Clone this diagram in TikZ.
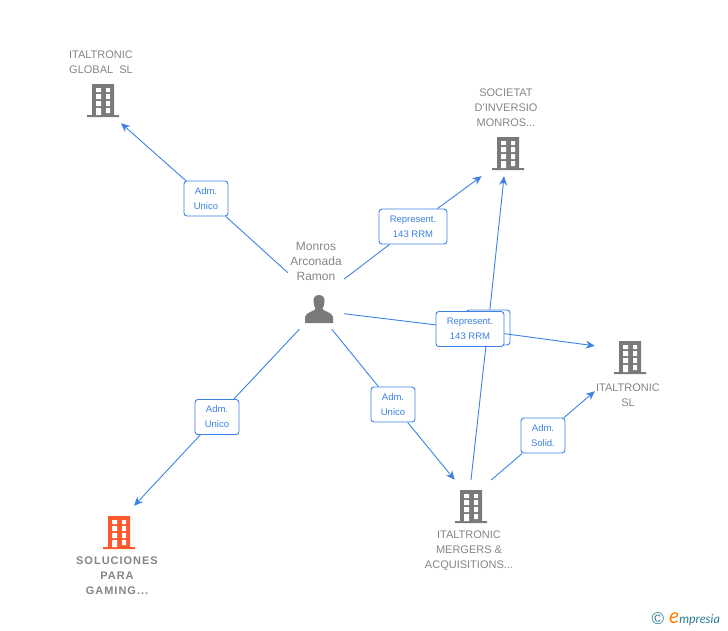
\documentclass[tikz,border=0pt]{standalone}
\usepackage{fontspec}
\setmainfont{Liberation Sans}
\newfontfamily\espacada[LetterSpace=9]{Liberation Sans}
\newfontfamily\marca{Lato}
\usetikzlibrary{arrows.meta}
\definecolor{azul}{HTML}{3B82E4}
\definecolor{cinza}{HTML}{7A7A7A}
\definecolor{texto}{HTML}{858585}
\definecolor{laranja}{HTML}{FF5A2B}
\definecolor{teal}{HTML}{2F7F96}
\newcommand{\liga}{\draw[-{Stealth[length=9pt,width=8pt]},azul,line width=0.9pt]}
\newcommand{\traco}{\draw[azul,line width=0.9pt]}
\tikzset{
  alvo/.style={inner sep=0pt,minimum width=70pt},
  nome/.style={text=texto,align=center,font=\fontsize{11}{15}\selectfont},
  rotulo/.style={draw=azul,line width=0.9pt,fill=white,rounded corners=3pt,text=azul,align=center,
    inner sep=0pt,minimum height=35pt,font=\fontsize{9.5}{15}\selectfont},
  curto/.style={rotulo,minimum width=44pt},
  longo/.style={rotulo,minimum width=68pt},
  pics/predio/.style={code={
    \fill[pic actions] (-11,-17) rectangle (11,14) (-16,14) rectangle (16,16);
    \fill[white] (-7,-13) rectangle (-2,-9) (3,-13) rectangle (7,-9)
      (-7,-7) rectangle (-2,-2) (3,-7) rectangle (7,-2)
      (-7,0) rectangle (-2,5) (3,0) rectangle (7,5)
      (-7,7) rectangle (-2,14) (3,7) rectangle (7,12);
  }},
  pics/pessoa/.style={code={
    \fill[pic actions] (0,-14) .. controls (-4,-14) and (-6,-11) .. (-5.5,-7)
      .. controls (-5.5,-4) and (-4,-2) .. (-3.5,0) .. controls (-4,2) and (-13,3) .. (-14,8)
      -- (-14,14) -- (14,14) -- (14,8) .. controls (13,3) and (4,2) .. (3.5,0)
      .. controls (4,-2) and (5.5,-4) .. (5.5,-7) .. controls (6,-11) and (4,-14) .. (0,-14) -- cycle;
  }}
}

\begin{document}
\begin{tikzpicture}[x=1pt,y=-1pt]
  \useasboundingbox (0,0) rectangle (728,630);

  % empresas e pessoa
  \node(person)   [alvo,minimum width=56pt,minimum height=91pt] at (316,283.5) {};
  \node(global)   [alvo,minimum height=44pt] at (103,101) {};
  \node(societat) [alvo,minimum height=44pt] at (508,154) {};
  \node(sl)       [alvo,minimum height=66pt] at (630,358) {};
  \node(mergers)  [alvo,minimum height=54pt] at (471,507) {};
  \node(solucion) [alvo,minimum height=54pt] at (119,533) {};

  \foreach \n in {global,societat,sl,mergers}
    \pic[fill=cinza] at (\n) {predio};
  \pic[fill=laranja] at (solucion) {predio};
  \pic[fill=cinza] at ([xshift=3pt,yshift=-25.5pt]person) {pessoa};

  % nomes
  \node(tperson)   [nome,font=\fontsize{12}{15}\selectfont,above of=person,node distance=22.5pt] {Monros\\Arconada\\Ramon};
  \node(tglobal)   [nome,above of=global,node distance=38.5pt,xshift=-2pt] {ITALTRONIC\\GLOBAL~ SL};
  \node(tsocietat) [nome,above of=societat,node distance=46pt,xshift=-2pt] {SOCIETAT\\D'INVERSIO\\MONROS...};
  \node(tsl)       [nome,below of=sl,node distance=37.5pt,xshift=-2pt] {ITALTRONIC\\SL};
  \node(tmergers)  [nome,below of=mergers,node distance=44pt,xshift=-2pt] {ITALTRONIC\\MERGERS \&\\ACQUISITIONS...};
  \node(tsolucion) [nome,below of=solucion,node distance=43pt,xshift=-2pt,font=\fontsize{11}{15}\selectfont\espacada\bfseries] {SOLUCIONES\\PARA\\GAMING...};

  % rótulos
  \node(lhidden)  [curto] at (488,327.5) {};
  \node(lglobal)  [curto] at (206,198.5) {Adm.\\Unico};
  \node(lsoc)     [longo] at (413,226.5) {Represent.\\143 RRM};
  \node(lsl)      [longo] at (470,329) {Represent.\\143 RRM};
  \node(lmerg)    [curto] at (393,404.5) {Adm.\\Unico};
  \node(lsolu)    [curto] at (217,417) {Adm.\\Unico};
  \node(lsolid)   [curto] at (543,435.5) {Adm.\\Solid.};

  % ligações
  \traco(person.159) -- (lglobal);
  \liga(lglobal) -- (global.-51);
  \traco(person.9) -- (lsoc);
  \liga(lsoc) -- (societat.-140);
  \traco(person.-47) -- (lsl);
  \liga(lsl) -- (sl.161);
  \traco(person.-71) -- (lmerg);
  \liga(lmerg) -- (mergers.121);
  \traco(person.-110) -- (lsolu);
  \liga(lsolu) -- (solucion.61);
  \traco(mergers.north) -- (lhidden);
  \liga(lhidden) -- (societat.-100);
  \traco(mergers.53) -- (lsolid);
  \liga(lsolid) -- (sl.south west);

  % marca
  \node(copia) [text=teal,font=\fontsize{17}{17}\selectfont] at (658,619) {©};
  \node(logo)  [anchor=west,inner sep=0pt,text=teal,font=\fontsize{12.5}{14}\selectfont\marca\itshape] at (669,619)
    {\textcolor{orange}{\fontsize{21}{14}\selectfont e}mpresia};
\end{tikzpicture}
\end{document}
